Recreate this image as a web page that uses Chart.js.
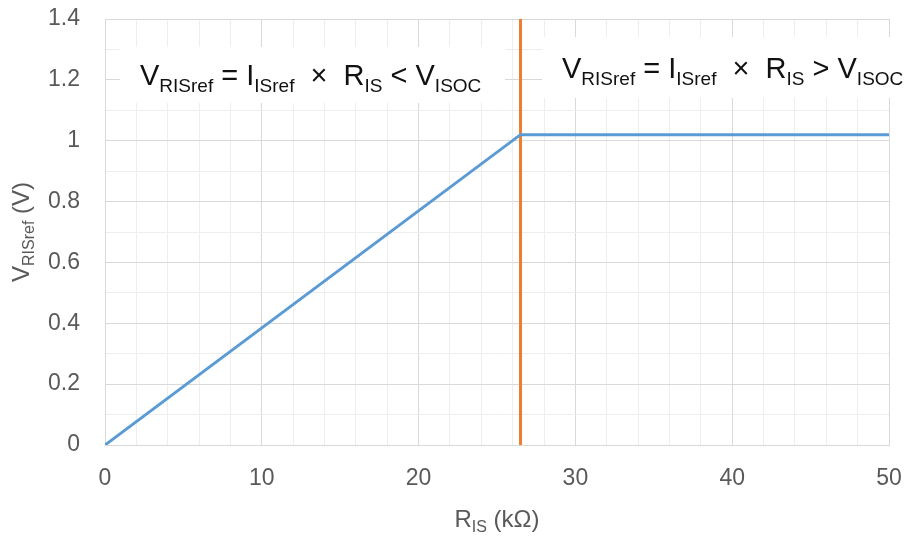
<!DOCTYPE html>
<html>
<head>
<meta charset="utf-8">
<script src="https://cdn.jsdelivr.net/npm/chart.js@4/dist/chart.umd.min.js"></script>
<style>
  html, body { margin: 0; padding: 0; background: #fff; }
  #wrap { width: 906px; height: 541px; }
</style>
</head>
<body>
<div id="wrap"><canvas id="graphChart" width="906" height="541"></canvas></div>
<script>
// values
const rIs = [0, 26.5, 50];          // kOhm
const vRisRef = [0, 1.02, 1.02];    // V
const limitX = [26.5, 26.5];        // orange boundary line
const limitY = [0, 1.4];

const xTicks = [0, 10, 20, 30, 40, 50];
const yTicks = [0, 0.2, 0.4, 0.6, 0.8, 1, 1.2, 1.4];

const FONT = '"Liberation Sans", Arial, sans-serif';
const GRID_MAJOR = '#d9d9d9';
const GRID_MINOR = '#eeeeee';

// draw a row of text pieces, some as subscripts
function drawRich(ctx, parts, x, y, size, subSize, subDrop) {
    let cx = x;
    parts.forEach(p => {
        ctx.font = (p.sub ? subSize : size) + 'px ' + FONT;
        ctx.fillText(p.t, cx, y + (p.sub ? subDrop : 0));
        cx += ctx.measureText(p.t).width;
    });
    return cx - x;
}
function richWidth(ctx, parts, size, subSize) {
    let w = 0;
    parts.forEach(p => {
        ctx.font = (p.sub ? subSize : size) + 'px ' + FONT;
        w += ctx.measureText(p.t).width;
    });
    return w;
}

const leftNote = [
    {t: 'V'}, {t: 'RISref', sub: true}, {t: ' = I'}, {t: 'ISref', sub: true},
    {t: '  \u00d7  R'}, {t: 'IS', sub: true}, {t: ' < V'}, {t: 'ISOC', sub: true}
];
const rightNote = [
    {t: 'V'}, {t: 'RISref', sub: true}, {t: ' = I'}, {t: 'ISref', sub: true},
    {t: '  \u00d7  R'}, {t: 'IS', sub: true}, {t: ' > V'}, {t: 'ISOC', sub: true}
];
const yTitle = [{t: 'V'}, {t: 'RISref', sub: true}, {t: ' (V)'}];
const xTitle = [{t: 'R'}, {t: 'IS', sub: true}, {t: ' (k\u03a9)'}];

//white boxes + formulas, drawn over the grid but under the lines
const notesPlugin = {
    id: 'notes',
    beforeDatasetsDraw(chart) {
        const ctx = chart.ctx;
        const a = chart.chartArea;
        ctx.save();
        ctx.fillStyle = '#fff';
        ctx.fillRect(a.left + 15, a.top + 28, 385, 56);
        ctx.fillRect(a.left + 437, a.top + 18, 400, 61);
        ctx.fillStyle = '#111';
        ctx.textBaseline = 'alphabetic';
        ctx.textAlign = 'left';
        drawRich(ctx, leftNote, a.left + 35, a.top + 66, 29, 19, 7);
        drawRich(ctx, rightNote, a.left + 457, a.top + 59, 29, 19, 7);
        ctx.restore();
    },
    afterDraw(chart) {
        const ctx = chart.ctx;
        const a = chart.chartArea;
        ctx.save();
        ctx.fillStyle = '#595959';
        ctx.textBaseline = 'alphabetic';
        ctx.textAlign = 'left';
        // x axis title
        let w = richWidth(ctx, xTitle, 24, 16);
        drawRich(ctx, xTitle, (a.left + a.right) / 2 - w / 2, 527, 24, 16, 5);
        // y axis title, rotated
        w = richWidth(ctx, yTitle, 24, 16);
        ctx.translate(29, (a.top + a.bottom) / 2);
        ctx.rotate(-Math.PI / 2);
        drawRich(ctx, yTitle, -w / 2, 0, 24, 16, 5);
        ctx.restore();
    }
};

const data = {
    datasets: [{
        label: 'VRISref',
        data: rIs.map((x, i) => ({x: x, y: vRisRef[i]})),
        borderColor: '#5b9bd5',
        borderWidth: 3,
        pointRadius: 0,
        tension: 0
    }, {
        label: 'limit',
        data: limitX.map((x, i) => ({x: x, y: limitY[i]})),
        borderColor: '#ed7d31',
        borderWidth: 3,
        pointRadius: 0,
        tension: 0
    }]
};

// no label overhang padding, layout padding decides the plot box
function noPad(s) {
    s.paddingTop = 0; s.paddingBottom = 0;
    s.paddingLeft = 0; s.paddingRight = 0;
}

const config = {
    type: 'line',
    data: data,
    options: {
        responsive: false,
        animation: false,
        layout: { padding: { top: 19, right: 17, left: 0, bottom: 0 } },
        plugins: { legend: { display: false }, tooltip: { enabled: false } },
        scales: {
            x: {
                type: 'linear',
                min: 0, max: 50,
                afterFit: s => { s.height = 96; noPad(s); },
                grid: {
                    drawTicks: false,
                    color: c => (c.tick && c.tick.value % 10 === 0) ? GRID_MAJOR : GRID_MINOR,
                    lineWidth: 1
                },
                border: { color: GRID_MAJOR },
                ticks: {
                    stepSize: 2,
                    autoSkip: false,
                    maxRotation: 0,
                    minRotation: 0,
                    padding: 20,
                    color: '#595959',
                    font: { family: FONT, size: 23 },
                    callback: v => xTicks.includes(v) ? String(v) : ''
                }
            },
            y: {
                min: 0, max: 1.4,
                afterFit: s => { s.width = 105; noPad(s); },
                grid: {
                    drawTicks: false,
                    color: c => (c.tick && Math.round(c.tick.value * 10) % 2 === 0) ? GRID_MAJOR : GRID_MINOR,
                    lineWidth: 1
                },
                border: { color: GRID_MAJOR },
                ticks: {
                    stepSize: 0.1,
                    autoSkip: false,
                    padding: 25,
                    color: '#595959',
                    font: { family: FONT, size: 23 },
                    callback: v => {
                        const r = Math.round(v * 10) / 10;
                        return yTicks.includes(r) ? String(r) : '';
                    }
                }
            }
        }
    },
    plugins: [notesPlugin]
};

const ctx = document.getElementById('graphChart').getContext('2d');
const graphChart = new Chart(ctx, config);
</script>
</body>
</html>
